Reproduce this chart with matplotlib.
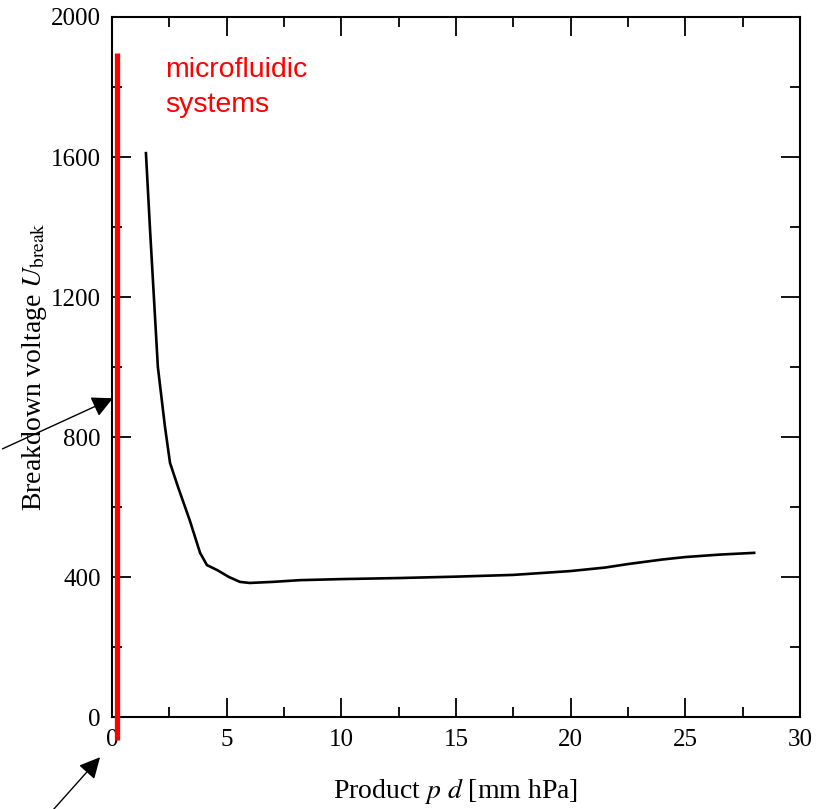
import matplotlib.pyplot as plt
from matplotlib.ticker import MultipleLocator

# Paschen-Kurve
pd_werte = [1.48, 1.66, 2.0, 2.31, 2.53, 2.88, 3.4, 3.84, 4.14, 4.58, 5.1, 5.58, 6.0, 7.0,
            8.2, 10.0, 12.5, 15.0, 17.5, 20.0, 21.5, 22.5, 24.0, 25.0, 26.5, 28.0]
spannung = [1611, 1391, 1000, 829, 726, 657, 560, 469, 434, 420, 400, 386, 383, 386,
            391, 394, 397, 401, 406, 417, 427, 437, 450, 457, 464, 469]

# rote Markierung fuer Mikrofluidik
mikro_x = [0.2, 0.2]
mikro_y = [-66, 1897]

plt.rcParams['font.family'] = ['Liberation Serif', 'DejaVu Serif']
plt.rcParams['mathtext.fontset'] = 'stix'

fig = plt.figure(figsize=(8.2, 8.09), dpi=100)
ax = fig.add_axes([112 / 820, 92 / 809, 688 / 820, 700 / 809])

ax.plot(pd_werte, spannung, color='black', lw=1.9)
ax.plot(mikro_x, mikro_y, color='#ff0000', lw=3.8, clip_on=False, solid_capstyle='butt', zorder=5)

ax.set_xlim(0, 30)
ax.set_ylim(0, 2000)
ax.xaxis.set_major_locator(MultipleLocator(5))
ax.xaxis.set_minor_locator(MultipleLocator(2.5))
ax.yaxis.set_major_locator(MultipleLocator(400))
ax.yaxis.set_minor_locator(MultipleLocator(200))
ax.tick_params(which='both', direction='in', top=True, right=True, labelsize=18, width=1.3)
ax.tick_params(which='major', length=14)
ax.tick_params(which='minor', length=7)
ax.tick_params(axis='x', pad=9)
ax.tick_params(axis='y', pad=8)
for s in ax.spines.values():
    s.set_linewidth(1.5)

ax.set_xlabel('Product $p$ $d$ [mm hPa]', fontsize=20, labelpad=18)
ax.set_ylabel(r'Breakdown voltage $U_{\mathrm{break}}$', fontsize=20)
ax.yaxis.set_label_coords(-0.092, 0.5)

ax.text(2.31, 1729, 'microfluidic\nsystems', color='#ff0000', fontsize=20.5,
        family=['Liberation Sans', 'DejaVu Sans'], va='baseline', ha='left', linespacing=1.45)

pfeil = dict(arrowstyle='-|>', color='black', lw=1.0, mutation_scale=32)
ax.annotate('', xy=(0.15, 914), xytext=(0, 359), xycoords='data',
            textcoords='figure pixels', arrowprops=pfeil, annotation_clip=False)
ax.annotate('', xy=(-0.44, -109), xytext=(45, -10), xycoords='data',
            textcoords='figure pixels', arrowprops=pfeil, annotation_clip=False)

fig.savefig('out.png', dpi=100)
